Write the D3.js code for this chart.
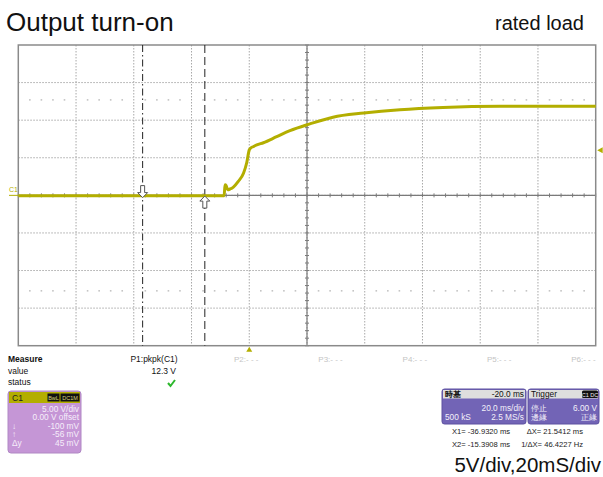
<!DOCTYPE html>
<html>
<head>
<meta charset="utf-8">
<script src="https://cdn.jsdelivr.net/npm/d3@7"></script>
<style>
  body { margin: 0; background: #fff; }
  text { font-family: "Liberation Sans", Arial, sans-serif; }
</style>
</head>
<body>
<div class="chart"></div>
<script>
// waveform: time (ms, trigger = 0) and volts
var timeMs = [-80, -8.7, -8.4, -8.0, -7.5, -6.6, -5.5, -3.8, -2.0, -0.9, 0, 0.5, 1.5, 2.6, 4.9, 9.5, 14.1, 21.0, 29.0, 39.7, 52.2, 67.1, 86.8, 100.6, 120];
var voltsV = [-0.05, -0.05, 1.4, 1.3, 0.75, 0.85, 1.1, 1.85, 2.95, 4.3, 6.05, 6.3, 6.5, 6.7, 7.0, 7.8, 8.6, 9.5, 10.4, 10.95, 11.4, 11.7, 11.85, 11.85, 11.85];

var cursorX = [-36.932, -15.3908];   // X1, X2 in ms
var thresholdV = [12.7, -12.7];      // faint dotted marker rows
var triggerLevel = 6.0;
var triggerTime = 0;

var measureRows = ["Measure", "value", "status"];
var measureSlots = ["P2:- - -", "P3:- - -", "P4:- - -", "P5:- - -", "P6:- - -"];
var c1Rows = [["", "5.00 V/div"], ["", "0.00 V offset"], ["\u2193", "-100 mV"], ["\u2191", "-56 mV"], ["\u0394y", "45 mV"]];
var cursorText = [["X1= -36.9320 ms", "\u0394X= 21.5412 ms"], ["X2= -15.3908 ms", "1/\u0394X= 46.4227 Hz"]];

var svgWidth = 603, svgHeight = 477;
var plot = { left: 18.3, right: 595.7, top: 45, bottom: 345.7 };
var traceColor = "#b3ae00";

var svg = d3.select(".chart").append("svg")
  .attr("width", svgWidth).attr("height", svgHeight);

var x = d3.scaleLinear().domain([-80, 120]).range([plot.left, plot.right]);
var y = d3.scaleLinear().domain([-20, 20]).range([plot.bottom, plot.top]);

// titles
svg.append("text").attr("x", 6).attr("y", 31).attr("font-size", 26).attr("fill", "#111").text("Output turn-on");
svg.append("text").attr("x", 584).attr("y", 30).attr("font-size", 20).attr("text-anchor", "end").attr("fill", "#111").text("rated load");

var grid = svg.append("g");

// dotted grid
grid.selectAll(".vg").data(x.ticks(10).slice(1, -1)).enter().append("line")
  .attr("x1", d => x(d)).attr("x2", d => x(d))
  .attr("y1", plot.top).attr("y2", plot.bottom)
  .attr("stroke", "#a8a8a8").attr("stroke-dasharray", "1.5,1.5");
grid.selectAll(".hg").data(y.ticks(8).slice(1, -1)).enter().append("line")
  .attr("y1", d => y(d)).attr("y2", d => y(d))
  .attr("x1", plot.left).attr("x2", plot.right)
  .attr("stroke", "#a8a8a8").attr("stroke-dasharray", "1.5,1.5");

// faint marker rows
var minorX = d3.range(-80, 120.01, 4);
thresholdV.forEach(function (v) {
  grid.selectAll(null).data(minorX.filter(t => t % 20 !== 0)).enter().append("rect")
    .attr("x", d => x(d) - 0.8).attr("y", y(v) - 0.8)
    .attr("width", 1.6).attr("height", 1.6).attr("fill", "#c4c4c4");
});

// center axes with minor ticks
grid.append("line").attr("x1", plot.left).attr("x2", plot.right)
  .attr("y1", y(0)).attr("y2", y(0)).attr("stroke", "#7a7a7a").attr("stroke-width", 1.2);
grid.append("line").attr("x1", x(20)).attr("x2", x(20))
  .attr("y1", plot.top).attr("y2", plot.bottom).attr("stroke", "#7a7a7a").attr("stroke-width", 1.2);
grid.selectAll(".mx").data(minorX).enter().append("line")
  .attr("x1", d => x(d)).attr("x2", d => x(d))
  .attr("y1", y(0) - 2).attr("y2", y(0) + 2).attr("stroke", "#7a7a7a");
grid.selectAll(".my").data(d3.range(-20, 20.01, 1)).enter().append("line")
  .attr("y1", d => y(d)).attr("y2", d => y(d))
  .attr("x1", x(20) - 2).attr("x2", x(20) + 2).attr("stroke", "#7a7a7a");

// border
grid.append("rect").attr("x", plot.left).attr("y", plot.top)
  .attr("width", plot.right - plot.left).attr("height", plot.bottom - plot.top)
  .attr("fill", "none").attr("stroke", "#8a8a8a").attr("stroke-width", 1.5);

// cursors
svg.append("line").attr("x1", x(cursorX[0])).attr("x2", x(cursorX[0]))
  .attr("y1", plot.top).attr("y2", plot.bottom)
  .attr("stroke", "#222").attr("stroke-dasharray", "7,3,1.5,3");
svg.append("line").attr("x1", x(cursorX[1])).attr("x2", x(cursorX[1]))
  .attr("y1", plot.top).attr("y2", plot.bottom)
  .attr("stroke", "#222").attr("stroke-dasharray", "8,4");

// waveform
var waveform = timeMs.map((t, i) => [t, voltsV[i]]);
var line = d3.line().x(d => x(d[0])).y(d => y(d[1])).curve(d3.curveMonotoneX);
svg.append("path").datum(waveform).attr("d", line)
  .attr("fill", "none").attr("stroke", traceColor).attr("stroke-width", 3).attr("stroke-linejoin", "round");

// hollow y-cursor arrows
function arrow(cx, tipY, dir) {
  var s = dir; // 1 = pointing down, -1 = pointing up
  var p = [[cx, tipY], [cx - 5, tipY - 5 * s], [cx - 2, tipY - 5 * s], [cx - 2, tipY - 12 * s],
           [cx + 2, tipY - 12 * s], [cx + 2, tipY - 5 * s], [cx + 5, tipY - 5 * s]];
  svg.append("path").attr("d", "M" + p.join("L") + "Z")
    .attr("fill", "#fff").attr("stroke", "#555").attr("stroke-width", 1);
}
arrow(x(cursorX[0]), y(-0.3), 1);
arrow(x(cursorX[1]), y(-0.1), -1);

// channel ground, trigger markers
svg.append("text").attr("x", 9).attr("y", 192).attr("font-size", 7).attr("fill", traceColor).text("C1");
svg.append("line").attr("x1", 9).attr("x2", plot.left).attr("y1", y(0)).attr("y2", y(0))
  .attr("stroke", traceColor).attr("stroke-width", 1);
var tx = x(triggerTime);
svg.append("path").attr("d", "M" + tx + "," + (plot.bottom + 1) + "L" + (tx - 3) + "," + (plot.bottom + 6) + "L" + (tx + 3) + "," + (plot.bottom + 6) + "Z")
  .attr("fill", traceColor);
var ty = y(triggerLevel);
svg.append("path").attr("d", "M" + (plot.right + 1.5) + "," + ty + "L" + (plot.right + 7) + "," + (ty - 3) + "L" + (plot.right + 7) + "," + (ty + 3) + "Z")
  .attr("fill", traceColor);

// measure panel
svg.selectAll(".mr").data(measureRows).enter().append("text")
  .attr("x", 8).attr("y", (d, i) => 362 + i * 11.5)
  .attr("font-size", 8.5).attr("font-weight", (d, i) => i === 0 ? "bold" : "normal")
  .attr("fill", "#111").text(d => d);
svg.append("text").attr("x", 154).attr("y", 362).attr("font-size", 8.5).attr("text-anchor", "middle").attr("fill", "#111").text("P1:pkpk(C1)");
svg.append("text").attr("x", 176).attr("y", 373.5).attr("font-size", 8.5).attr("text-anchor", "end").attr("fill", "#111").text("12.3 V");
svg.append("path").attr("d", "M168,383 L170.5,386 L175,380")
  .attr("fill", "none").attr("stroke", "#2db82d").attr("stroke-width", 2);
svg.selectAll(".ms").data(measureSlots).enter().append("text")
  .attr("x", (d, i) => 234 + i * 84.3).attr("y", 362).attr("font-size", 8)
  .attr("fill", "#c4c4c4").text(d => d);

// C1 box
var c1 = svg.append("g");
c1.append("rect").attr("x", 8).attr("y", 391).attr("width", 73).attr("height", 62).attr("rx", 3)
  .attr("fill", "#c596d6").attr("stroke", "#b088c4");
c1.append("rect").attr("x", 9).attr("y", 392).attr("width", 71).attr("height", 11).attr("fill", traceColor);
c1.append("text").attr("x", 12).attr("y", 401).attr("font-size", 8.5).attr("fill", "#222").text("C1");
c1.append("rect").attr("x", 47.5).attr("y", 393.5).attr("width", 12).attr("height", 8).attr("fill", "#111");
c1.append("rect").attr("x", 60.5).attr("y", 393.5).attr("width", 19).attr("height", 8).attr("fill", "#111");
c1.append("text").attr("x", 53.5).attr("y", 400).attr("font-size", 5.5).attr("text-anchor", "middle").attr("fill", "#d8d47a").text("BwL");
c1.append("text").attr("x", 70).attr("y", 400).attr("font-size", 5.5).attr("text-anchor", "middle").attr("fill", "#d8d47a").text("DC1M");
c1.selectAll(".c1r").data(c1Rows).enter().append("g").each(function (d, i) {
  var g = d3.select(this), yy = 411.5 + i * 8.6;
  g.append("text").attr("x", 12).attr("y", yy).attr("font-size", 8.3).attr("fill", "#f6eefa").text(d[0]);
  g.append("text").attr("x", 79).attr("y", yy).attr("font-size", 8.3).attr("text-anchor", "end").attr("fill", "#f6eefa").text(d[1]);
});

// timebase and trigger boxes
function infoBox(x0, w, head, headRight, rows, badge) {
  var g = svg.append("g");
  g.append("rect").attr("x", x0).attr("y", 389).attr("width", w).attr("height", 35).attr("rx", 2.5)
    .attr("fill", "#7264b6").attr("stroke", "#5c50a0");
  g.append("rect").attr("x", x0 + 1).attr("y", 390).attr("width", w - 2).attr("height", 8.5).attr("fill", "#dedede");
  g.append("text").attr("x", x0 + 3).attr("y", 397).attr("font-size", 8.3).attr("fill", "#111")
    .attr("font-weight", badge ? "normal" : "bold").text(head);
  if (badge) {
    g.append("rect").attr("x", x0 + w - 17).attr("y", 390.5).attr("width", 16).attr("height", 7.5).attr("rx", 1.5).attr("fill", "#111");
    g.append("text").attr("x", x0 + w - 9).attr("y", 396.5).attr("font-size", 5.5).attr("text-anchor", "middle").attr("fill", "#eee").text(headRight);
  } else {
    g.append("text").attr("x", x0 + w - 2).attr("y", 397).attr("font-size", 8.3).attr("text-anchor", "end").attr("fill", "#111").text(headRight);
  }
  rows.forEach(function (r, i) {
    var yy = 410.5 + i * 9;
    g.append("text").attr("x", x0 + 3).attr("y", yy).attr("font-size", 8.3).attr("fill", "#f2f0fa").text(r[0]);
    g.append("text").attr("x", x0 + w - 2).attr("y", yy).attr("font-size", 8.3).attr("text-anchor", "end").attr("fill", "#f2f0fa").text(r[1]);
  });
}
infoBox(442, 84, "\u6642\u57fa", "-20.0 ms", [["", "20.0 ms/div"], ["500 kS", "2.5 MS/s"]], false);
infoBox(528, 71, "Trigger", "C1 DC", [["\u505c\u6b62", "6.00 V"], ["\u908a\u7de3", "\u6b63\u7de3"]], true);

// cursor readout
cursorText.forEach(function (r, i) {
  svg.append("text").attr("x", 452).attr("y", 434 + i * 13).attr("font-size", 7.6).attr("fill", "#222").text(r[0]);
  svg.append("text").attr("x", 583).attr("y", 434 + i * 13).attr("font-size", 7.6).attr("text-anchor", "end").attr("fill", "#222").text(r[1]);
});

svg.append("text").attr("x", 601).attr("y", 472).attr("font-size", 20.5).attr("text-anchor", "end")
  .attr("fill", "#111").text("5V/div,20mS/div");
</script>
</body>
</html>
